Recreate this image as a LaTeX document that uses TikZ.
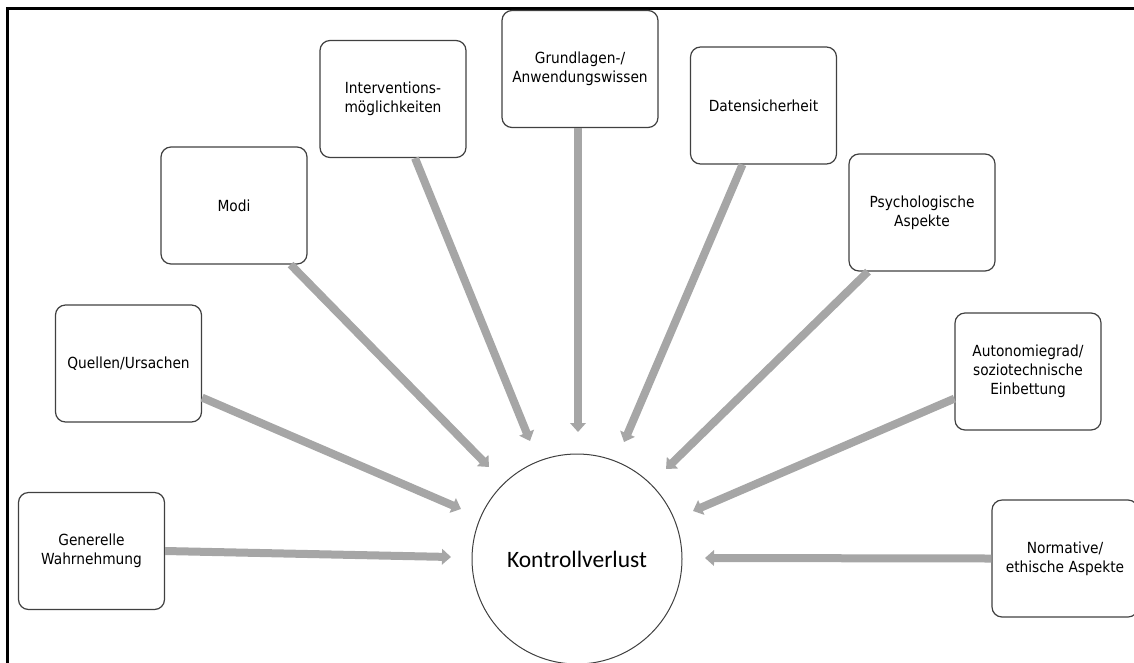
\documentclass[tikz,border=0pt]{standalone}
\usepackage{fontspec}
\usetikzlibrary{arrows.meta}
\newfontfamily\boxfont[FakeStretch=0.9]{DejaVu Sans}
\newfontfamily\centerfont{Carlito}
\definecolor{arrowgray}{HTML}{A6A6A6}
\definecolor{bordergray}{HTML}{404040}
\begin{document}
\begin{tikzpicture}[x=1pt,y=-1pt,
  topic/.style={draw=bordergray,line width=1.2pt,rounded corners=10pt,
    minimum width=146pt,minimum height=117pt,align=center,inner sep=2pt,
    font=\boxfont\fontsize{15.3}{19}\selectfont,text=black},
  hub/.style={circle,draw=bordergray,line width=1pt,minimum size=210pt,
    inner sep=0pt,font=\centerfont\fontsize{23.5}{28}\selectfont},
  arr/.style={draw=arrowgray,line width=8pt,
    -{Triangle[width=15.5pt,length=9pt]}}]
\useasboundingbox (0,0) rectangle (1134,662);
% frame
\draw[line width=3pt] (1140,8.5) -- (7.5,8.5) -- (7.5,670);
% hub
\node[hub] (k) at (577,559) {Kontrollverlust};
% topics
\node[topic] (gen) at (91.5,551) {Generelle\\Wahrnehmung};
\node[topic] (quel) at (128.5,363.5) {Quellen/Ursachen};
\node[topic] (modi) at (234,205.5) {Modi};
\node[topic] (interv) at (393,99) {\raisebox{5pt}{\begin{tabular}{@{}c@{}}Interventions-\\m\"oglichkeiten\end{tabular}}};
\node[topic,minimum width=156pt] (grund) at (580,69) {\raisebox{5pt}{\begin{tabular}{@{}c@{}}Grundlagen-/\\Anwendungswissen\end{tabular}}};
\node[topic] (daten) at (763.5,105.5) {Datensicherheit};
\node[topic] (psych) at (922,212.5) {Psychologische\\Aspekte};
\node[topic] (auto) at (1028,371.5) {Autonomiegrad/\\soziotechnische\\Einbettung};
\node[topic] (norm) at (1065,558.5) {Normative/\\ethische Aspekte};
% arrow ends
\coordinate (eGen) at (451,557);
\coordinate (eQuel) at (461,509);
\coordinate (eModi) at (489,467);
\coordinate (eInterv) at (530,441);
\coordinate (eGrund) at (578,432);
\coordinate (eDaten) at (624,442);
\coordinate (ePsych) at (666,469);
\coordinate (eAuto) at (693,511);
\coordinate (eNorm) at (705,558);
% arrows
\draw[arr] (gen.east) -- (eGen);
\draw[arr] ([yshift=25pt]quel.south east) -- (eQuel);
\draw[arr] ([xshift=-17pt]modi.south east) -- (eModi);
\draw[arr] ([xshift=22pt]interv.south) -- (eInterv);
\draw[arr] ([xshift=-2pt]grund.south) -- (eGrund);
\draw[arr] ([xshift=-21pt]daten.south) -- (eDaten);
\draw[arr] ([xshift=-54pt]psych.south) -- (ePsych);
\draw[arr] ([yshift=32pt]auto.south west) -- (eAuto);
\draw[arr] (norm.west) -- (eNorm);
\end{tikzpicture}
\end{document}
